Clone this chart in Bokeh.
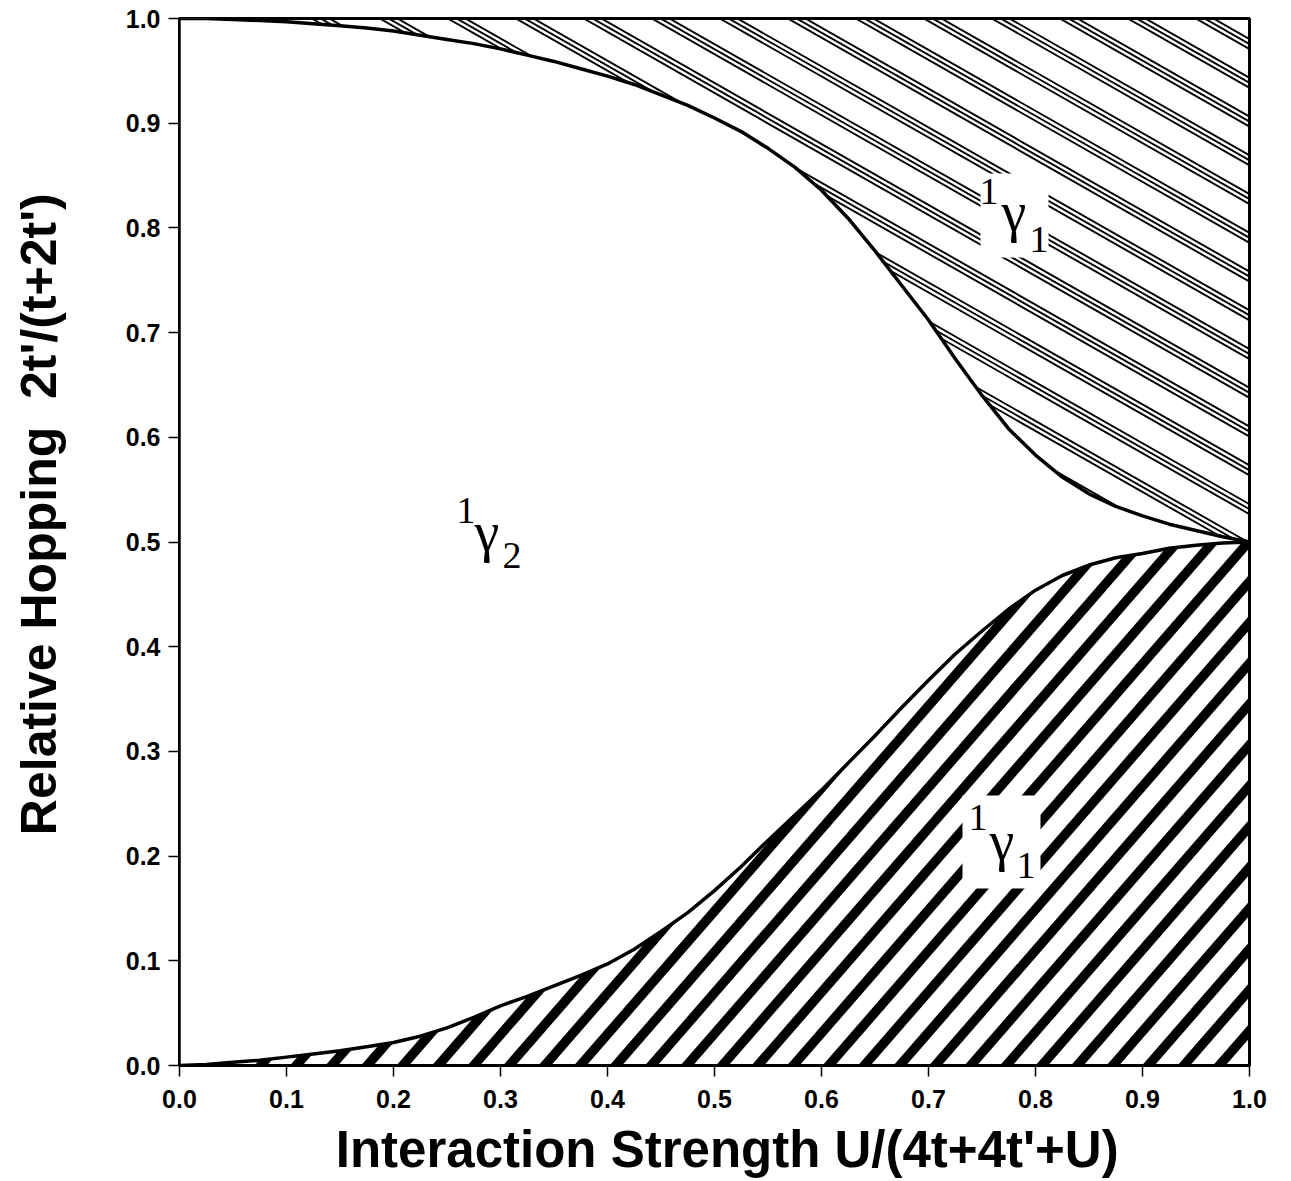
import numpy as np
from bokeh.plotting import figure
from bokeh.models import Range1d, FixedTicker, PrintfTickFormatter
from bokeh.embed import file_html
from bokeh.resources import INLINE
from bokeh.core.properties import value

# ---------------- data ----------------
interaction = [0.000, 0.025, 0.050, 0.075, 0.100, 0.125, 0.150, 0.175, 0.200, 0.225,
               0.250, 0.275, 0.300, 0.325, 0.350, 0.375, 0.400, 0.425, 0.450, 0.475,
               0.500, 0.525, 0.550, 0.575, 0.600, 0.625, 0.650, 0.675, 0.700, 0.725,
               0.750, 0.775, 0.800, 0.825, 0.850, 0.875, 0.900, 0.925, 0.950, 0.975, 1.000]
upper_boundary = [1.000, 1.000, 0.999, 0.998, 0.997, 0.995, 0.993, 0.991, 0.988, 0.984,
                  0.980, 0.976, 0.971, 0.965, 0.959, 0.952, 0.945, 0.937, 0.927, 0.917,
                  0.905, 0.892, 0.876, 0.858, 0.836, 0.809, 0.778, 0.745, 0.712, 0.675,
                  0.640, 0.608, 0.583, 0.562, 0.546, 0.534, 0.525, 0.517, 0.511, 0.505, 0.500]
lower_boundary = [0.000, 0.001, 0.003, 0.005, 0.008, 0.011, 0.014, 0.018, 0.022, 0.028,
                  0.036, 0.046, 0.057, 0.066, 0.076, 0.086, 0.097, 0.111, 0.128, 0.146,
                  0.167, 0.190, 0.215, 0.239, 0.263, 0.289, 0.315, 0.342, 0.368, 0.393,
                  0.415, 0.436, 0.454, 0.468, 0.478, 0.485, 0.489, 0.494, 0.497, 0.499, 0.500]
tick_values = [0.0, 0.1, 0.2, 0.3, 0.4, 0.5, 0.6, 0.7, 0.8, 0.9, 1.0]
x_title = "\u2002Interaction Strength U/(4t+4t'+U)"
y_title = "\u00a0\u00a0\u00a0\u00a0Relative Hopping\u00a0\u00a02t'/(t+2t')"

# ---------------- layout ----------------
W, H = 1291, 1181
ML, MR, MT, MB = 179, 42, 18, 116
FW, FH = W - ML - MR, H - MT - MB


def px(xp, yp):
    return (xp - ML) / FW, (MT + FH - yp) / FH


p = figure(width=W, height=H, x_range=Range1d(0, 1), y_range=Range1d(0, 1),
           output_backend="svg", toolbar_location=None,
           min_border_left=ML, min_border_right=MR, min_border_top=MT, min_border_bottom=MB)
p.xgrid.visible = False
p.ygrid.visible = False
p.outline_line_color = "black"
p.outline_line_width = 3
p.background_fill_color = "white"
p.border_fill_color = "white"

for ax in (p.xaxis[0], p.yaxis[0]):
    ax.ticker = FixedTicker(ticks=tick_values)
    ax.formatter = PrintfTickFormatter(format="%.1f")
    ax.axis_line_width = 2.5
    ax.axis_line_color = "black"
    ax.major_tick_in = 0
    ax.major_tick_out = 11
    ax.major_tick_line_width = 1.5
    ax.major_tick_line_color = "black"
    ax.minor_tick_line_color = None
    ax.major_label_text_font = "Liberation Sans"
    ax.major_label_text_font_style = "bold"
    ax.major_label_text_font_size = "25px"
    ax.major_label_text_color = "black"
    ax.axis_label_text_font = "Liberation Sans"
    ax.axis_label_text_font_style = "bold"
    ax.axis_label_text_color = "black"

p.xaxis[0].axis_label = x_title
p.yaxis[0].axis_label = y_title
p.xaxis[0].axis_label_text_font_size = "51px"
p.yaxis[0].axis_label_text_font_size = "50px"
p.xaxis[0].major_label_standoff = 13
p.yaxis[0].major_label_standoff = 8
p.xaxis[0].axis_label_standoff = 10
p.yaxis[0].axis_label_standoff = 56


# ---------------- hatch line families (screen geometry) ----------------
def family(slope, period_h, phase_u, phase_v, offsets, vlo, vhi, ulo, uhi):
    xs, ys = [], []
    c0 = phase_v - slope * phase_u
    dc = abs(slope) * period_h
    corners = [vlo - slope * ulo, vlo - slope * uhi, vhi - slope * ulo, vhi - slope * uhi]
    kmin = int(np.floor((min(corners) - c0) / dc)) - 1
    kmax = int(np.ceil((max(corners) - c0) / dc)) + 1
    for k in range(kmin, kmax + 1):
        for off in offsets:
            c = c0 + k * dc + off
            ua, ub = (vlo - c) / slope, (vhi - c) / slope
            a, b = max(min(ua, ub), ulo), min(max(ua, ub), uhi)
            if a < b:
                xs.append([a / FW, b / FW])
                ys.append([(slope * a + c) / FH, (slope * b + c) / FH])
    return xs, ys


mid_v = 0.5 * FH
# lower region: thick stripes rising to the right
lx, ly = family(1.15, 35.5, 296, 2, [0.0], -12, mid_v, -12, FW + 12)
p.multi_line(lx, ly, line_color="black", line_width=9.5, line_cap="butt")
# upper region: groups of three thin lines falling to the right
ux, uy = family(-0.57, 68, 761, 965, [-5.0, 0.0, 5.0], mid_v, FH + 4, -4, FW + 4)
p.multi_line(ux, uy, line_color="black", line_width=1.9, line_cap="butt")

# white (unhatched) 1γ2 region between the two boundaries
p.patch(interaction + interaction[::-1], upper_boundary + lower_boundary[::-1],
        fill_color="white", line_color=None)

# boundaries
p.line(interaction, upper_boundary, line_color="black", line_width=3.5, line_join="round")
p.line(interaction, lower_boundary, line_color="black", line_width=3.5, line_join="round")

# ---------------- region labels ----------------
boxes = [(980, 1048, 173, 257), (962, 1040, 795, 888)]
bl, br, bt, bb = [], [], [], []
for x0, x1, y0, y1 in boxes:
    a, t = px(x0, y0)
    b, bo = px(x1, y1)
    bl.append(a); br.append(b); bt.append(t); bb.append(bo)
p.quad(left=bl, right=br, top=bt, bottom=bb, fill_color="white", line_color=None)

digits = [("1", 979, 191), ("1", 1029, 239),
          ("1", 968, 817), ("1", 1016, 865),
          ("1", 456, 510), ("2", 502, 555)]
gammas = [("γ", 1001, 211), ("γ", 989, 840), ("γ", 474, 531)]

dx, dy = zip(*[px(a, b) for _, a, b in digits])
p.text(x=list(dx), y=list(dy), text=[d[0] for d in digits], text_font=value("Liberation Serif"),
       text_font_size="38px", text_align="left", text_baseline="alphabetic", text_color="black")
gx, gy = zip(*[px(a, b) for _, a, b in gammas])
p.text(x=list(gx), y=list(gy), text=[g[0] for g in gammas], text_font=value("Liberation Serif"),
       text_font_size="56px", text_align="left", text_baseline="alphabetic", text_color="black")

open("out.html", "w").write(file_html(p, INLINE))
